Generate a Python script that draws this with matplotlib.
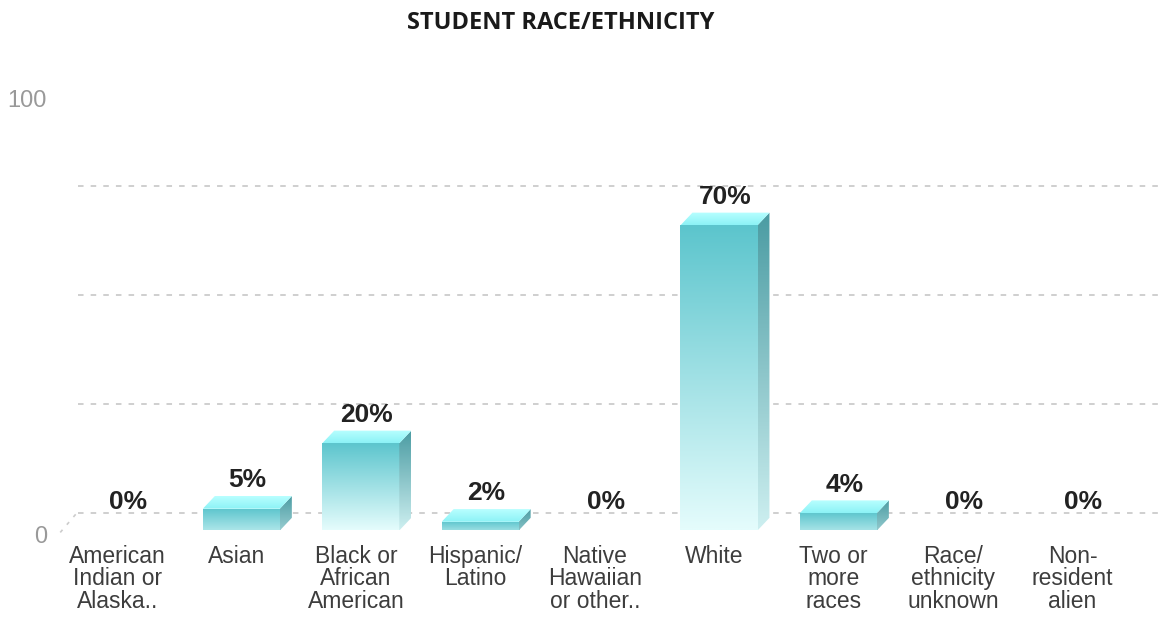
import numpy as np
import matplotlib.pyplot as plt
from matplotlib.colors import to_rgb
from matplotlib.patches import Polygon, Rectangle

plt.rcParams['lines.scale_dashes'] = False

# data
categories = ["American\nIndian or\nAlaska..", "Asian", "Black or\nAfrican\nAmerican",
              "Hispanic/\nLatino", "Native\nHawaiian\nor other..", "White",
              "Two or\nmore\nraces", "Race/\nethnicity\nunknown", "Non-\nresident\nalien"]
percent = [0, 5, 20, 2, 0, 70, 4, 0, 0]
y_ticks = [0, 100]
grid_vals = [0, 25, 50, 75]

# 3d look
BAR_W = 0.645
DX, DY = 0.10, 2.9          # depth of the bar (x units, y units)
WALL = 3.9                  # back wall offset of the grid
FRONT_TOP, FRONT_BOT = "#5cc5cd", "#e4fcfc"
SIDE_TOP, SIDE_BOT = "#4b9ca3", "#cdeff0"
TOP_FRONT, TOP_BACK = "#8cf2f6", "#b8ffff"


def mix(a, b, t):
    a, b = np.array(to_rgb(a)), np.array(to_rgb(b))
    return a * (1 - t) + b * t


def gradient(top, bottom, n=64):
    t = np.linspace(0, 1, n)[:, None]
    g = np.array(to_rgb(bottom)) * (1 - t) + np.array(to_rgb(top)) * t
    return g[:, None, :]


fig = plt.figure(figsize=(11.6, 6.2), dpi=100)
ax = fig.add_axes([0.0537, 0.1444, 0.9264, 0.7032])
ax.axis('off')

# grid on the back wall
x_start, x_end = -0.368, 8.677
for v in grid_vals:
    ax.plot([x_start, x_end], [v + WALL, v + WALL], color="#cccccc", lw=1.3,
            dashes=(4.0, 5.1), clip_on=False, zorder=1)
ax.plot([x_start - 0.02, x_start - 0.16], [WALL - 0.2, -0.8], color="#cccccc", lw=1.2,
        dashes=(2.5, 4.8), clip_on=False, zorder=1)

for i, v in enumerate(percent):
    x0, x1 = i - BAR_W / 2, i + BAR_W / 2
    if v > 0:
        k = min(1.0, v / 14)
        low = mix(FRONT_TOP, FRONT_BOT, 0.35 + 0.65 * k)
        side_low = mix(SIDE_TOP, SIDE_BOT, 0.35 + 0.65 * k)
        # front face
        clip = Rectangle((x0, 0), BAR_W, v, transform=ax.transData)
        im = ax.imshow(gradient(FRONT_TOP, low), extent=[x0, x1, 0, v], origin='lower',
                       aspect='auto', interpolation='bilinear', zorder=3)
        im.set_clip_path(clip)
        # side face
        side = Polygon([(x1, 0), (x1 + DX, DY), (x1 + DX, v + DY), (x1, v)],
                       closed=True, transform=ax.transData)
        im2 = ax.imshow(gradient(SIDE_TOP, side_low), extent=[x1, x1 + DX, 0, v + DY],
                        origin='lower', aspect='auto', interpolation='bilinear', zorder=3)
        im2.set_clip_path(side)
        # top face
        top = Polygon([(x0, v), (x1, v), (x1 + DX, v + DY), (x0 + DX, v + DY)],
                      closed=True, transform=ax.transData)
        im3 = ax.imshow(gradient(TOP_BACK, TOP_FRONT), extent=[x0, x1 + DX, v, v + DY],
                        origin='lower', aspect='auto', interpolation='bilinear', zorder=3)
        im3.set_clip_path(top)

    ax.text(i + 0.05, v + DY + 2.0, f"{v}%", ha='center', va='baseline',
            fontsize=19, fontweight='bold', color="#222222", family="Liberation Sans",
            zorder=5)
    ax.text(i - 0.04, -3.3, categories[i], ha='center', va='top', fontsize=16.5,
            color="#3d3d3d", family="Liberation Sans", linespacing=0.98)

for t in y_ticks:
    ax.text(-0.628, t - 1.4, str(t), ha='right', va='center', fontsize=17,
            color="#999999", family="Liberation Sans")

ax.set_xlim(-0.5, 8.5)
ax.set_ylim(0, 100)

fig.text(561 / 1160, 1 - 23 / 620, "STUDENT RACE/ETHNICITY", ha='center', va='center',
         fontsize=17, fontweight='bold', color="#1a1a1a", family="Open Sans")

fig.savefig("out.png", dpi=100)
